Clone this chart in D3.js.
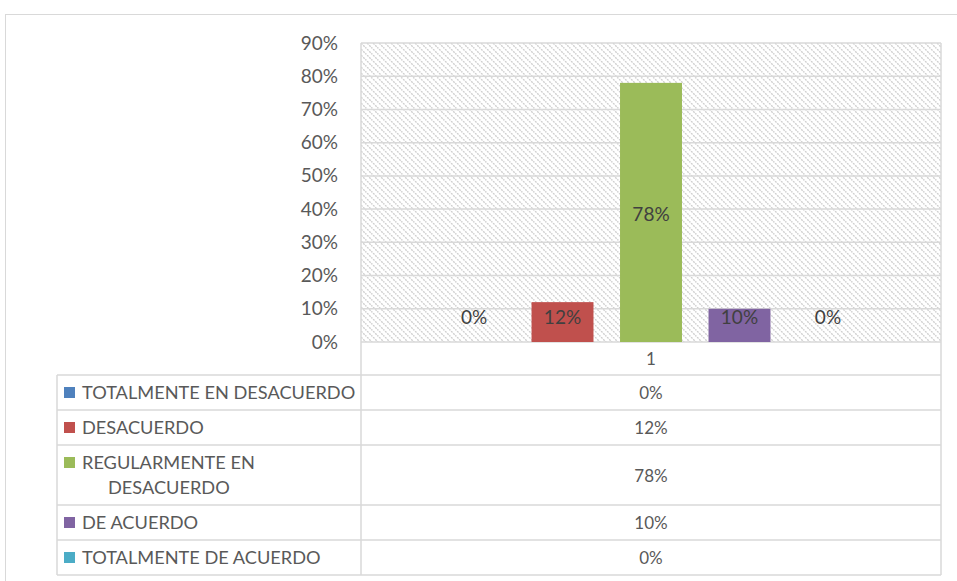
<!DOCTYPE html>
<html>
<head>
<meta charset="utf-8">
<script src="https://cdn.jsdelivr.net/npm/d3@7"></script>
<style>
  body { margin: 0; background: #fff; }
  text { font-family: Lato, 'Open Sans', sans-serif; }
</style>
</head>
<body>
<script>
const WIDTH = 957
const HEIGHT = 581

const CATEGORIES = ['1']
const SERIES = ['TOTALMENTE EN DESACUERDO', 'DESACUERDO', 'REGULARMENTE EN DESACUERDO', 'DE ACUERDO', 'TOTALMENTE DE ACUERDO']
const VALUES = [0, 0.12, 0.78, 0.10, 0]
const COLORS = ['#4f81bd', '#c0504d', '#9bbb59', '#8064a2', '#4bacc6']
const Y_TICKS = [0, 0.1, 0.2, 0.3, 0.4, 0.5, 0.6, 0.7, 0.8, 0.9]

const GRID = '#d9d9d9'
const TXT = '#595959'
const FONT = 19

const plot = { left: 361, right: 941, top: 43, bottom: 342 }
const tbl = { left: 57, top: 375, headerTop: 342 }

const svg = d3.select('body')
  .append('svg')
  .attr('width', WIDTH)
  .attr('height', HEIGHT)

// hachures du fond
const defs = svg.append('defs')
const pat = defs.append('pattern')
  .attr('id', 'hatch')
  .attr('patternUnits', 'userSpaceOnUse')
  .attr('width', 6)
  .attr('height', 6)
pat.append('path')
  .attr('d', 'M-1,-1 L7,7 M-1,5 L1,7 M5,-1 L7,1')
  .attr('stroke', '#cfcfcf')
  .attr('stroke-width', 1.4)
  .attr('stroke-dasharray', '2,1')

// cadre extérieur
svg.append('rect')
  .attr('x', 5.5).attr('y', 14.5)
  .attr('width', 1000).attr('height', 700)
  .attr('fill', 'none')
  .attr('stroke', GRID)

const y = d3.scaleLinear()
  .domain([0, 0.9])
  .range([plot.bottom, plot.top])

const x0 = d3.scaleBand()
  .domain(CATEGORIES)
  .range([plot.left, plot.right])
  .paddingInner(0)
  .paddingOuter(0.1554)

const x1 = d3.scaleBand()
  .domain(SERIES)
  .range([0, x0.bandwidth()])
  .paddingInner(0.3)
  .paddingOuter(0.15)

svg.append('rect')
  .attr('x', plot.left).attr('y', plot.top)
  .attr('width', plot.right - plot.left)
  .attr('height', plot.bottom - plot.top)
  .attr('fill', 'url(#hatch)')

// lignes de grille
svg.append('g')
  .selectAll('line')
  .data(Y_TICKS)
  .enter()
  .append('line')
  .attr('x1', plot.left).attr('x2', plot.right)
  .attr('y1', d => y(d)).attr('y2', d => y(d))
  .attr('stroke', GRID)
  .attr('stroke-width', 1.5)

svg.append('line')
  .attr('x1', plot.left).attr('x2', plot.left)
  .attr('y1', plot.top).attr('y2', plot.bottom)
  .attr('stroke', GRID).attr('stroke-width', 1.5)
svg.append('line')
  .attr('x1', plot.right).attr('x2', plot.right)
  .attr('y1', plot.top).attr('y2', plot.bottom)
  .attr('stroke', GRID).attr('stroke-width', 1.5)

// axe Y
const yAxis = svg.append('g')
  .attr('transform', `translate(${plot.left - 23},0)`)
  .call(d3.axisLeft(y).tickValues(Y_TICKS).tickFormat(d3.format('.0%')).tickSize(0).tickPadding(0))
yAxis.select('.domain').remove()
yAxis.selectAll('text')
  .attr('fill', TXT)
  .style('font-size', FONT + 'px')
  .style('font-family', 'Lato, sans-serif')

// barres
const barData = SERIES.map((s, i) => ({ cat: CATEGORIES[0], name: s, value: VALUES[i], color: COLORS[i] }))
const bars = svg.append('g')
bars.selectAll('rect')
  .data(barData)
  .enter()
  .append('rect')
  .attr('x', d => x0(d.cat) + x1(d.name))
  .attr('y', d => y(d.value))
  .attr('width', x1.bandwidth())
  .attr('height', d => y(0) - y(d.value))
  .attr('fill', d => d.color)

bars.selectAll('text')
  .data(barData)
  .enter()
  .append('text')
  .attr('x', d => x0(d.cat) + x1(d.name) + x1.bandwidth() / 2)
  .attr('y', d => Math.min(y(d.value / 2) + 2, y(0) - 25))
  .attr('dy', '0.35em')
  .attr('text-anchor', 'middle')
  .attr('fill', '#404040')
  .style('font-size', FONT + 'px')
  .text(d => d3.format('.0%')(d.value))

// tableau de données
const tableLine = (x1_, y1_, x2_, y2_) => svg.append('line')
  .attr('x1', x1_).attr('y1', y1_).attr('x2', x2_).attr('y2', y2_)
  .attr('stroke', GRID).attr('stroke-width', 1.5)

// ligne d'en-tête avec la catégorie
tableLine(plot.left, tbl.headerTop, plot.left, tbl.top)
tableLine(plot.right, tbl.headerTop, plot.right, tbl.top)
svg.append('text')
  .attr('x', x0(CATEGORIES[0]) + x0.bandwidth() / 2)
  .attr('y', (tbl.headerTop + tbl.top) / 2 + 1)
  .attr('dy', '0.35em')
  .attr('text-anchor', 'middle')
  .attr('fill', TXT)
  .style('font-size', '17px')
  .text(CATEGORIES[0])

const wrap = s => {
  if (s.length <= 25) return [s]
  const w = s.split(' ')
  return [w.slice(0, 2).join(' '), w.slice(2).join(' ')]
}

let rowY = tbl.top
const rows = barData.map(d => {
  const lines = wrap(d.name)
  const h = 10 + 25 * lines.length
  const r = { ...d, lines, top: rowY, h }
  rowY += h
  return r
})

tableLine(tbl.left, tbl.top, plot.right, tbl.top)
tableLine(tbl.left, tbl.top, tbl.left, rowY)
tableLine(plot.left, tbl.top, plot.left, rowY)
tableLine(plot.right, tbl.top, plot.right, rowY)

const rowG = svg.append('g')
  .selectAll('g')
  .data(rows)
  .enter()
  .append('g')

rowG.append('line')
  .attr('x1', tbl.left).attr('x2', plot.right)
  .attr('y1', d => d.top + d.h).attr('y2', d => d.top + d.h)
  .attr('stroke', GRID).attr('stroke-width', 1.5)

rowG.append('rect')
  .attr('x', tbl.left + 7)
  .attr('y', d => d.top + 12)
  .attr('width', 11).attr('height', 11)
  .attr('fill', d => d.color)

rowG.each(function (d) {
  const t = d3.select(this).append('text')
    .attr('fill', TXT)
    .style('font-size', '18.2px')
  d.lines.forEach((l, i) => {
    t.append('tspan')
      .attr('x', i === 0 ? tbl.left + 25 : tbl.left + 51)
      .attr('y', d.top + 18 + i * 25)
      .attr('dy', '0.35em')
      .text(l)
  })
})

rowG.append('text')
  .attr('x', x0(CATEGORIES[0]) + x0.bandwidth() / 2)
  .attr('y', d => d.top + d.h / 2 + 1)
  .attr('dy', '0.35em')
  .attr('text-anchor', 'middle')
  .attr('fill', TXT)
  .style('font-size', '17px')
  .text(d => d3.format('.0%')(d.value))
</script>
</body>
</html>
